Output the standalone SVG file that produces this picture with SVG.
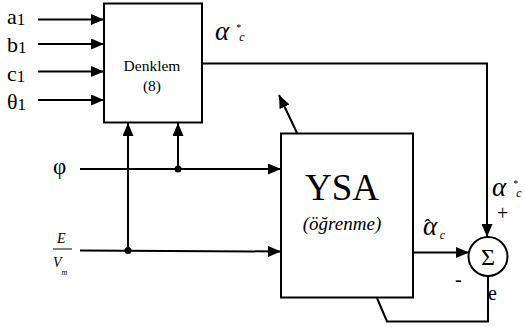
<svg xmlns="http://www.w3.org/2000/svg" width="525" height="327" viewBox="0 0 525 327">
<defs>
<style>
.ln{stroke:#000;stroke-width:2;fill:none}
.box{stroke:#000;stroke-width:2;fill:#fff}
text{font-family:"Liberation Serif","Times New Roman",serif;fill:#000}
.i{font-style:italic}
</style>
<marker id="ah" markerUnits="userSpaceOnUse" markerWidth="13" markerHeight="11" refX="13" refY="5.5" orient="auto" viewBox="0 0 13 11">
<path d="M0,0 L13,5.5 L0,11 z" fill="#000"/>
</marker>
</defs>
<rect width="525" height="327" fill="#fff"/>
<g id="connectors">
<line class="ln" x1="38" y1="19.5" x2="104" y2="19.5" marker-end="url(#ah)"/>
<line class="ln" x1="38" y1="44" x2="104" y2="44" marker-end="url(#ah)"/>
<line class="ln" x1="38" y1="71.5" x2="104" y2="71.5" marker-end="url(#ah)"/>
<line class="ln" x1="38" y1="100" x2="104" y2="100" marker-end="url(#ah)"/>
<line class="ln" x1="80" y1="169" x2="281" y2="169" marker-end="url(#ah)"/>
<line class="ln" x1="80" y1="250.5" x2="281" y2="251.5" marker-end="url(#ah)"/>
<line class="ln" x1="128" y1="250.5" x2="128" y2="123" marker-end="url(#ah)"/>
<line class="ln" x1="178" y1="169" x2="178" y2="123" marker-end="url(#ah)"/>
<circle cx="128" cy="250.5" r="3.5" fill="#000"/>
<circle cx="178" cy="169" r="3.5" fill="#000"/>
<polyline class="ln" points="202,63.5 487,63.5 487,237" marker-end="url(#ah)"/>
<line class="ln" x1="413" y1="252.5" x2="469" y2="252.5" marker-end="url(#ah)"/>
<polyline class="ln" points="488,276 488,321.5 387,321.5 377,298"/>
<line class="ln" x1="297" y1="133" x2="279" y2="95" marker-end="url(#ah)"/>
</g>
<g id="denklem">
<rect class="box" x="104" y="3.5" width="98" height="119"/>
<text x="152" y="71" font-size="15.5" text-anchor="middle">Denklem</text>
<text x="152" y="91" font-size="15.5" text-anchor="middle">(8)</text>
</g>
<g id="ysa">
<rect class="box" x="281" y="133.5" width="132" height="164"/>
<text x="342" y="200" font-size="37" text-anchor="middle">YSA</text>
<text class="i" x="342" y="230" font-size="19" text-anchor="middle">(öğrenme)</text>
</g>
<g id="sum">
<circle class="box" cx="488" cy="256.5" r="19.5"/>
<text x="488" y="265" font-size="24" text-anchor="middle">Σ</text>
</g>
<g id="labels">
<text x="7" y="24" font-size="22">a<tspan font-size="17" dy="1">1</tspan></text>
<text x="7" y="52" font-size="22">b<tspan font-size="17" dy="1">1</tspan></text>
<text x="7" y="81" font-size="22">c<tspan font-size="17" dy="1">1</tspan></text>
<text x="7" y="109" font-size="22">θ<tspan font-size="17" dy="1">1</tspan></text>
<text x="53" y="174" font-size="23">φ</text>
<text class="i" x="57" y="243" font-size="14">E</text>
<line x1="53" y1="249" x2="72" y2="249" stroke="#000" stroke-width="1"/>
<text class="i" x="53" y="267" font-size="14">V<tspan font-size="8" dy="8">m</tspan></text>
<text class="i" x="215" y="40" font-size="27">α<tspan font-style="normal" font-size="10" dx="7" dy="-9">*</tspan><tspan font-size="12" dx="-2" dy="10">c</tspan></text>
<text class="i" x="492" y="196" font-size="27">α<tspan font-style="normal" font-size="10" dx="7" dy="-9">*</tspan><tspan font-size="12" dx="-2" dy="10">c</tspan></text>
<text x="497" y="220" font-size="20">+</text>
<text class="i" x="423" y="235" font-size="27">α<tspan font-style="normal" font-size="20" dx="-13" dy="-1">ˆ</tspan><tspan font-size="12" dx="9" dy="5">c</tspan></text>
<text x="455" y="286" font-size="20">-</text>
<text x="488" y="300" font-size="20">e</text>
</g>
</svg>
